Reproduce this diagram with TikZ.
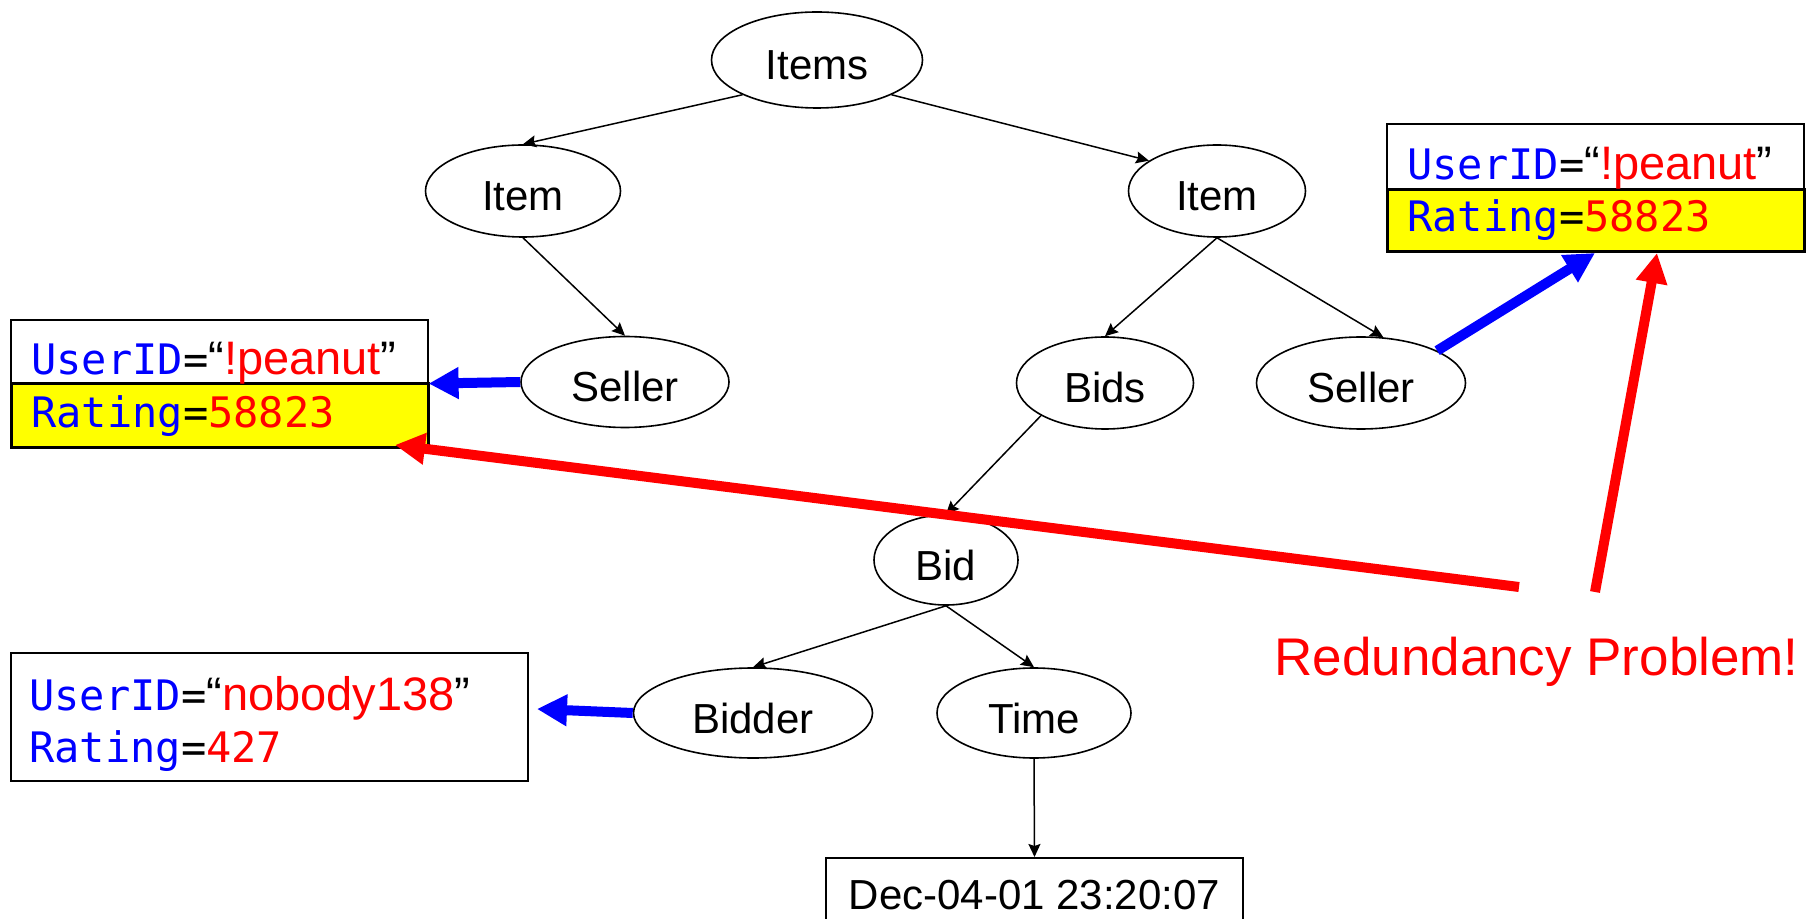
\documentclass[tikz,border=0pt]{standalone}
\usepackage{fontspec}
\setmainfont{Liberation Sans}
\newfontfamily\monof{DejaVu Sans Mono}
\usetikzlibrary{shapes.geometric,arrows.meta}
\definecolor{kblue}{RGB}{0,0,255}
\definecolor{kred}{RGB}{255,0,0}
\definecolor{kyel}{RGB}{255,255,0}
\newcommand{\km}[1]{{\fontsize{21}{25}\monof\selectfont #1}}
\begin{document}
\begin{tikzpicture}[x=0.5pt,y=-0.5pt,
  tnode/.style={ellipse,draw,line width=0.8pt,inner sep=0pt,
    font=\fontsize{21}{25}\selectfont,text height=20pt,text depth=0pt},
  tedge/.style={line width=0.75pt,-{Stealth[length=6.5pt,width=6pt,inset=1pt]}},
  bigarrow/.style={line width=5pt,-{Triangle[length=15pt,width=15pt]}},
  wbox/.style={draw,fill=white,inner sep=0pt,anchor=north west,line width=0.8pt},
  ybox/.style={draw,fill=kyel,inner sep=0pt,anchor=north west,line width=1.3pt},
  btext/.style={anchor=base west,inner sep=0pt,font=\fontsize{23.5}{28}\selectfont}
]
\useasboundingbox (0,0) rectangle (1810,919);

% tree nodes
\node[tnode,minimum width=105.5pt,minimum height=48pt] (items) at (817,60) {Items};
\node[tnode,minimum width=97.5pt,minimum height=46pt] (itemL) at (523,191) {Item};
\node[tnode,minimum width=88.5pt,minimum height=46pt] (itemR) at (1217,191) {Item};
\node[tnode,minimum width=104pt,minimum height=45.5pt] (sellerL) at (625,382) {Seller};
\node[tnode,minimum width=88.5pt,minimum height=46pt] (bids) at (1105,383) {Bids};
\node[tnode,minimum width=104.5pt,minimum height=46pt] (sellerR) at (1361,383) {Seller};
\node[tnode,minimum width=72pt,minimum height=45pt] (bid) at (946,560) {Bid};
\node[tnode,minimum width=119.5pt,minimum height=45pt] (bidder) at (753,713) {Bidder};
\node[tnode,minimum width=97pt,minimum height=45pt] (time) at (1034,713) {Time};

\node[draw,line width=0.8pt,anchor=north,minimum width=208.5pt,inner xsep=0pt,inner ysep=0pt,
  font=\fontsize{21}{25}\selectfont,text height=26pt,text depth=14pt] (date) at (1034.5,857) {Dec-04-01 23:20:07};

% tree edges
\draw[tedge] (items.205) -- (itemL.north);
\draw[tedge] (items.335) -- (itemR.156);
\draw[tedge] (itemL.south) -- (sellerL.north);
\draw[tedge] (itemR.south) -- (bids.north);
\draw[tedge] (itemR.south) -- (sellerR.64);
\draw[tedge] (bids.207) -- (bid.north);
\draw[tedge] (bid.south) -- (bidder.north);
\draw[tedge] (bid.south) -- (time.north);
\draw[tedge] (time.south) -- (date.north);

% box 1 (left, seller)
\node[wbox,minimum width=208.5pt,minimum height=31.5pt] (b1top) at (10,319) {};
\node[ybox,minimum width=208.5pt,minimum height=32pt] (b1bot) at (10,382) {};
\node[btext] (b1a) at (31,375) {\km{\color{kblue}UserID}\km{=}“{\color{kred}!peanut}”};
\node[btext] (b1b) at (31,428) {\km{\color{kblue}Rating}\km{=}\km{\color{kred}58823}};

% box 2 (right, seller)
\node[wbox,minimum width=208.5pt,minimum height=32.5pt] (b2top) at (1386,123) {};
\node[ybox,minimum width=208.5pt,minimum height=31pt] (b2bot) at (1386,188) {};
\node[btext] (b2a) at (1407,180) {\km{\color{kblue}UserID}\km{=}“{\color{kred}!peanut}”};
\node[btext] (b2b) at (1407,232) {\km{\color{kblue}Rating}\km{=}\km{\color{kred}58823}};

% box 3 (bidder)
\node[wbox,line width=1pt,minimum width=258.5pt,minimum height=64pt] (b3) at (10,652) {};
\node[btext] (b3a) at (29,710) {\km{\color{kblue}UserID}\km{=}“{\color{kred}nobody138}”};
\node[btext] (b3b) at (29,762) {\km{\color{kblue}Rating}\km{=}\km{\color{kred}427}};

% label
\node[anchor=base west,inner sep=0pt,text=kred,font=\fontsize{26.5}{32}\selectfont] (prob) at (1274,675) {Redundancy Problem!};

% blue arrows
\coordinate (tipB3) at (537,709);
\coordinate (tipB2) at (1595,253);
\draw[bigarrow,kblue] (sellerL.west) -- (b1top.south east);
\draw[bigarrow,kblue] (bidder.west) -- (tipB3);
\draw[bigarrow,kblue] (sellerR.23) -- (tipB2);

% red arrows
\coordinate (r1s) at (1519,587);
\coordinate (r1t) at (395,445);
\coordinate (r2s) at (1595,592);
\coordinate (r2t) at (1657,253);
\draw[bigarrow,kred] (r1s) -- (r1t);
\draw[bigarrow,kred] (r2s) -- (r2t);
\end{tikzpicture}
\end{document}
